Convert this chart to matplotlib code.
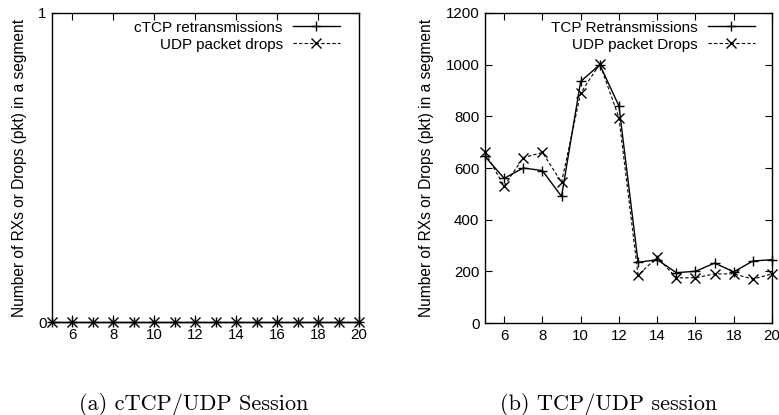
import matplotlib
matplotlib.use("Agg")
import matplotlib.pyplot as plt
import numpy as np

plt.rcParams["font.family"] = ["Liberation Sans", "DejaVu Sans"]

# segment index
segments = list(range(5, 21))

# (a) cTCP/UDP session: nothing lost
ctcp_rx = [0] * 16
udp_drops_a = [0] * 16

# (b) TCP/UDP session
tcp_rx = [645, 560, 600, 590, 490, 935, 1000, 840, 235, 245, 195, 200, 232, 198, 240, 245]
udp_drops_b = [660, 530, 640, 660, 545, 890, 1003, 795, 185, 255, 175, 175, 190, 190, 170, 190]

ylab = "Number of RXs or Drops (pkt) in a segment"

fig = plt.figure(figsize=(7.79, 4.15), dpi=100)
W, H = 779.0, 415.0


def style(ax):
    ax.tick_params(direction="in", top=True, right=True, length=5, width=0.8,
                   labelsize=10.8, pad=4)
    for s in ax.spines.values():
        s.set_linewidth(1.0)
    ax.set_xlim(5, 20)
    ax.set_xticks(range(6, 21, 2))


def draw(ax, a, b, la, lb, anchor_x):
    ax.plot(segments, a, "-", color="black", lw=1.0, marker="+", ms=7,
            mew=1.0, label=la, clip_on=False)
    ax.plot(segments, b, "--", color="black", lw=0.8, marker="x", ms=6.5,
            mew=1.0, dashes=(3, 2), label=lb, clip_on=False)
    style(ax)
    ax.set_ylabel(ylab, fontsize=11.2, labelpad=8)
    ax.legend(loc="upper right", bbox_to_anchor=(anchor_x, 0.99),
              frameon=False, markerfirst=False, fontsize=11,
              handlelength=3.1, handletextpad=0.65, borderaxespad=0.0,
              borderpad=0.3, labelspacing=0.2)


# left panel
ax1 = fig.add_axes([52 / W, (H - 322) / H, 307 / W, 309 / H])
draw(ax1, ctcp_rx, udp_drops_a, "cTCP retransmissions", "UDP packet drops", 0.953)
ax1.set_ylim(0, 1)
ax1.set_yticks([0, 1])

# right panel
ax2 = fig.add_axes([485 / W, (H - 323) / H, 287 / W, 310 / H])
draw(ax2, tcp_rx, udp_drops_b, "TCP Retransmissions", "UDP packet Drops", 0.957)
ax2.set_ylim(0, 1200)
ax2.set_yticks(range(0, 1201, 200))

# captions
fig.text(194 / W, 1 - 404 / H, "(a) cTCP/UDP Session", family="cmr10",
         fontsize=16, ha="center", va="center")
fig.text(609 / W, 1 - 404 / H, "(b) TCP/UDP session", family="cmr10",
         fontsize=16, ha="center", va="center")

fig.savefig("out.png", dpi=100)
